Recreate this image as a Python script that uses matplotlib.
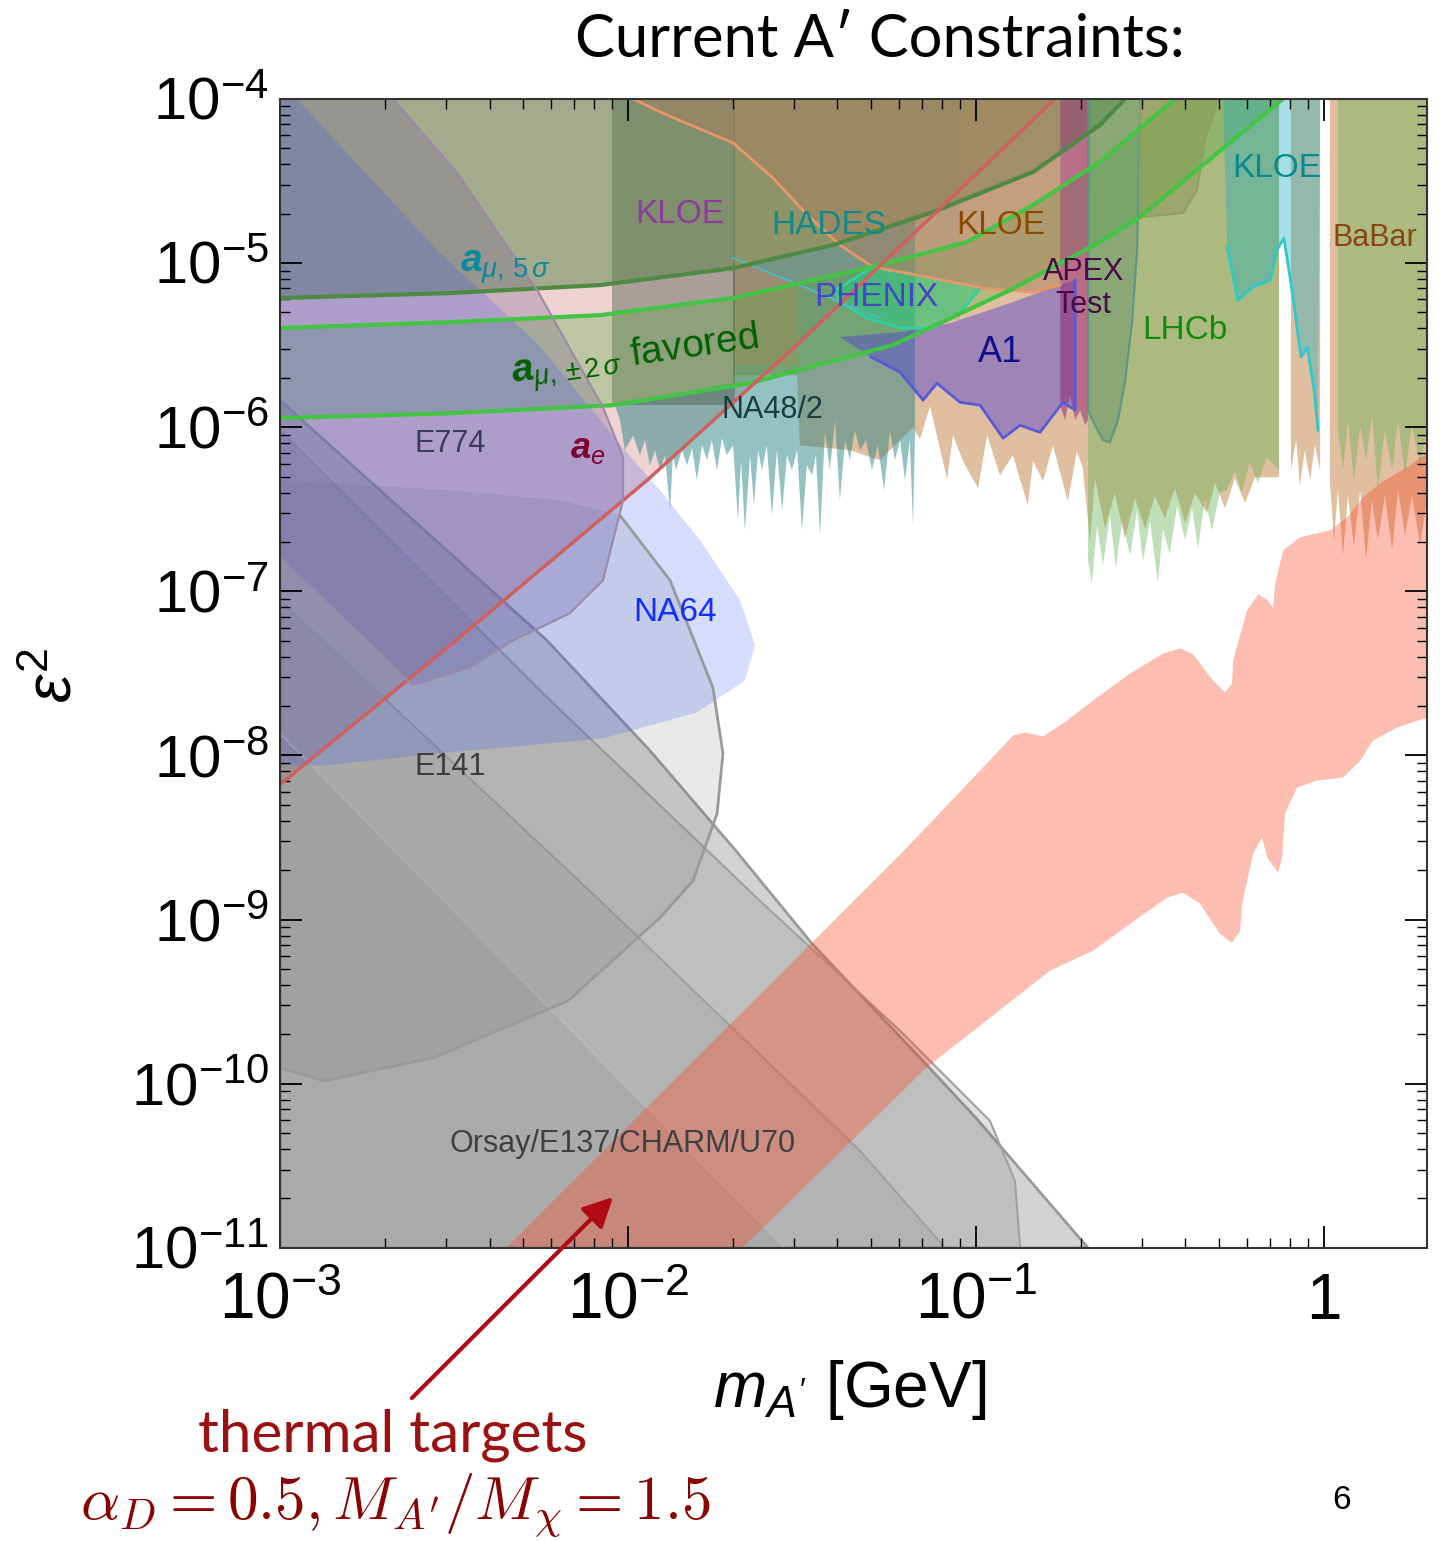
import numpy as np
import matplotlib.pyplot as plt

plt.rcParams['font.family'] = ['Liberation Sans', 'DejaVu Sans']
plt.rcParams['mathtext.fontset'] = 'custom'
plt.rcParams['mathtext.rm'] = 'Liberation Sans'
plt.rcParams['mathtext.it'] = 'Liberation Sans:italic'
plt.rcParams['mathtext.bf'] = 'Liberation Sans:bold'
plt.rcParams['mathtext.bfit'] = 'Liberation Sans:italic:bold'

# boundaries, as log10(m_A' / GeV) and log10(eps^2)
ae_lm = [-3.0, -3.0, -2.511, -1.945, -1.506, -0.773]
ae_le = [-4.0, -8.177, -7.329, -6.323, -5.482, -4.0]

amu5_lm = [-3.0, -2.511, -2.080, -1.698, -1.411, -1.123, -0.836, -0.644, -0.572]
amu5_le = [-5.213, -5.183, -5.134, -5.031, -4.890, -4.689, -4.445, -4.159, -4.0]

fav_hi_lm = [-3.0, -2.511, -2.080, -1.698, -1.313, -1.026, -0.836, -0.644, -0.500, -0.428]
fav_hi_le = [-5.396, -5.360, -5.317, -5.213, -5.031, -4.872, -4.646, -4.384, -4.128, -4.0]
fav_lo_lm = [-3.0, -2.511, -2.043, -1.649, -1.239, -0.902, -0.644, -0.529, -0.118]
fav_lo_le = [-5.945, -5.915, -5.866, -5.732, -5.500, -5.165, -4.872, -4.720, -4.0]

na48_lm = [-2.046, -2.037, -2.023, -2.009, -1.985, -1.966, -1.951, -1.937, -1.922,
           -1.908, -1.894, -1.879, -1.871, -1.862, -1.845, -1.830, -1.816, -1.802, -1.787,
           -1.773, -1.759, -1.744, -1.730, -1.716, -1.698, -1.684, -1.675, -1.664, -1.649,
           -1.638, -1.626, -1.615, -1.601, -1.586, -1.572, -1.557, -1.543, -1.529, -1.514,
           -1.500, -1.486, -1.471, -1.460, -1.448, -1.434, -1.420, -1.405, -1.391, -1.376,
           -1.362, -1.348, -1.333, -1.316, -1.299, -1.282, -1.264, -1.247, -1.233, -1.218,
           -1.204, -1.190, -1.181, -1.175]
na48_le = [-5.866, -5.866, -5.957, -6.140, -6.049, -6.171, -6.079, -6.232, -6.140,
           -6.262, -6.171, -6.506, -6.171, -6.262, -6.140, -6.232, -6.128, -6.323, -6.110,
           -6.201, -6.079, -6.262, -6.067, -6.171, -6.110, -6.567, -6.201, -6.628, -6.171,
           -6.476, -6.140, -6.262, -6.110, -6.537, -6.140, -6.506, -6.171, -6.262, -6.140,
           -6.628, -6.232, -6.293, -6.171, -6.659, -6.018, -6.262, -5.957, -6.445, -6.079,
           -6.201, -6.018, -6.140, -6.079, -6.262, -6.110, -6.384, -6.018, -6.201, -6.079,
           -6.323, -6.079, -6.598, -6.018]
na48_top_lm = [-1.175, -1.411, -1.698, -1.698, -2.046]
na48_top_le = [-4.729, -4.890, -5.031, -5.732, -5.870]

babar_lm = [-1.698, -1.698, -1.514, -1.506, -1.362, -1.276, -1.181, -1.161, -1.132, -1.083,
            -1.066, -1.037, -0.994, -0.968, -0.931, -0.894, -0.851, -0.836, -0.807, -0.779,
            -0.736, -0.710, -0.693, -0.672, -0.658, -0.629, -0.601, -0.572, -0.543, -0.514,
            -0.486, -0.457, -0.428, -0.399, -0.371, -0.336, -0.313, -0.284, -0.256, -0.227,
            -0.198, -0.129, -0.129]
babar_le = [-4.0, -5.683, -5.683, -6.110, -6.140, -6.201, -6.000, -6.074, -5.872, -6.317,
            -6.049, -6.208, -6.372, -6.049, -6.293, -6.171, -6.476, -6.207, -6.329, -6.110,
            -6.451, -6.146, -6.250, -6.695, -6.311, -6.616, -6.402, -6.677, -6.433, -6.616,
            -6.421, -6.555, -6.372, -6.585, -6.402, -6.524, -6.341, -6.494, -6.311, -6.463,
            -6.305, -6.305, -4.0]
babar2_lm = [-0.095, -0.095, -0.080, -0.069, -0.055, -0.040, -0.026, -0.011, -0.011]
babar2_le = [-4.0, -6.262, -6.079, -6.354, -6.140, -6.323, -6.110, -6.262, -4.0]
babar3_lm = [0.017, 0.017, 0.029, 0.040, 0.055, 0.069, 0.086, 0.104, 0.121, 0.138,
             0.155, 0.175, 0.196, 0.213, 0.233, 0.253, 0.276, 0.296, 0.296]
babar3_le = [-4.0, -6.323, -6.689, -6.384, -6.781, -6.415, -6.720, -6.384, -6.811, -6.445,
             -6.689, -6.415, -6.750, -6.384, -6.659, -6.415, -6.720, -6.445, -4.0]

wasa_lm = [-1.698, -1.514, -1.514, -1.698]
wasa_le = [-4.970, -5.128, -5.622, -5.622]

lhcb_lm = [-0.678, -0.678, -0.667, -0.652, -0.635, -0.615, -0.598, -0.580, -0.557, -0.537,
           -0.520, -0.500, -0.477, -0.463, -0.443, -0.422, -0.399, -0.379, -0.362, -0.342,
           -0.322, -0.299, -0.279, -0.256, -0.236, -0.213, -0.190, -0.164, -0.129, -0.129]
lhcb_le = [-4.0, -6.811, -6.951, -6.598, -6.841, -6.537, -6.860, -6.567, -6.780, -6.506,
           -6.817, -6.573, -6.951, -6.616, -6.774, -6.476, -6.689, -6.494, -6.738, -6.433,
           -6.628, -6.396, -6.384, -6.262, -6.396, -6.213, -6.341, -6.183, -6.262, -4.0]
lhcb2_lm = [0.040, 0.040, 0.055, 0.069, 0.086, 0.104, 0.121, 0.138, 0.155, 0.175,
            0.196, 0.213, 0.233, 0.253, 0.276, 0.296, 0.296]
lhcb2_le = [-4.0, -6.018, -6.262, -5.957, -6.323, -5.988, -6.201, -5.927, -6.384, -6.018,
            -6.262, -5.957, -6.293, -5.988, -6.232, -6.018, -4.0]

kloe_r_lm = [-0.290, -0.278, -0.247, -0.204, -0.155, -0.135, -0.115, -0.092, -0.066, -0.048, -0.028, -0.017, -0.011]
kloe_r_le = [-4.0, -4.903, -5.226, -5.146, -5.104, -4.921, -4.848, -5.165, -5.573, -5.512, -5.775, -6.018, -4.0]

mid_lm = [-0.678, -0.678, -0.658, -0.635, -0.615, -0.592, -0.571, -0.551, -0.537, -0.528]
mid_le = [-4.0, -5.896, -5.988, -6.079, -6.092, -5.957, -5.714, -5.348, -4.921, -4.0]

apex_lm = [-0.758, -0.758, -0.744, -0.730, -0.715, -0.701, -0.686, -0.678, -0.672]
apex_le = [-4.0, -5.866, -5.957, -5.805, -5.957, -5.896, -5.988, -5.957, -4.0]

a1_lm = [-1.391, -1.218, -1.074, -0.902, -0.778, -0.715, -0.715, -0.750, -0.816, -0.873,
         -0.922, -0.988, -1.046, -1.112, -1.152, -1.218, -1.301]
a1_le = [-5.451, -5.421, -5.366, -5.244, -5.146, -5.104, -5.896, -5.848, -6.031, -5.988,
         -6.067, -5.866, -5.848, -5.732, -5.835, -5.665, -5.573]

phenix_lm = [-1.405, -1.296, -1.169, -0.988, -1.003, -1.046, -1.123, -1.218, -1.313, -1.391]
phenix_le = [-5.165, -5.024, -5.073, -5.153, -5.195, -5.299, -5.396, -5.396, -5.335, -5.238]

kloe_b_lm = [-1.985, -1.888, -1.698, -1.583, -1.485, -1.391, -1.296, -1.169, -0.980, -0.836, -0.758, -0.758]
kloe_b_le = [-4.0, -4.098, -4.268, -4.482, -4.707, -4.890, -5.024, -5.073, -5.153, -5.177, -5.134, -4.0]

kloe_p_lm = [-2.046, -1.692, -1.692, -2.046]
kloe_p_le = [-4.0, -4.0, -5.866, -5.866]

hades_lm = [-1.698, -1.046, -1.046, -1.276, -1.391, -1.506, -1.698]
hades_le = [-4.0, -4.0, -5.348, -5.335, -5.238, -5.134, -4.970]

lhcb_d_lm = [-0.528, -0.528, -0.405, -0.365, -0.342, -0.304]
lhcb_d_le = [-4.0, -4.720, -4.695, -4.555, -4.250, -4.0]

e774_lm = [-2.675, -2.491, -2.261, -2.072, -2.014, -2.014, -2.072, -2.167, -2.330, -2.454, -2.618, -3.0, -3.0]
e774_le = [-4.0, -4.451, -5.165, -5.878, -6.183, -6.445, -6.933, -7.134, -7.299, -7.464, -7.573, -6.793, -4.0]

e141_lm = [-3.0, -2.511, -2.195, -2.023, -1.879, -1.756, -1.727, -1.744, -1.813, -1.908, -2.172, -2.560, -2.874, -3.0]
e141_le = [-6.323, -6.384, -6.445, -6.537, -6.933, -7.586, -7.988, -8.354, -8.763, -8.988, -9.494, -9.842, -9.982, -9.903]

na64_lm = [-2.951, -2.549, -2.261, -2.072, -2.009, -1.908, -1.793, -1.678, -1.635, -1.664,
           -1.802, -2.072, -2.549, -2.874, -3.0, -3.0]
na64_le = [-4.0, -4.921, -5.488, -5.976, -6.140, -6.384, -6.689, -7.055, -7.329, -7.543,
           -7.738, -7.896, -7.988, -8.061, -8.061, -4.0]

dump1_lm = [-3.0, -2.233, -1.937, -1.690, -1.471, -1.161, -1.0, -0.678, -3.0]
dump1_le = [-5.836, -7.299, -7.970, -8.580, -9.147, -9.842, -10.208, -11.0, -11.0]
dump2_lm = [-3.0, -2.253, -1.621, -1.218, -0.960, -0.888, -0.873, -3.0]
dump2_le = [-6.018, -7.604, -8.885, -9.677, -10.226, -10.592, -11.0, -11.0]
dump3_lm = [-3.0, -2.080, -1.333, -1.089, -3.0]
dump3_le = [-7.055, -8.885, -10.409, -11.0, -11.0]
dump4_lm = [-3.0, -2.670, -1.549, -3.0]
dump4_le = [-7.866, -8.580, -11.0, -11.0]

thermal_hi_lm = [-2.350, -1.207, -0.988, -0.893, -0.859, -0.807, -0.750, -0.652, -0.557, -0.462,
                 -0.413, -0.376, -0.319, -0.284, -0.264, -0.261, -0.221, -0.189, -0.161, -0.146,
                 -0.140, -0.117, -0.069, 0.018, 0.067, 0.113, 0.161, 0.239, 0.296]
thermal_hi_le = [-11.0, -8.580, -8.092, -7.878, -7.860, -7.884, -7.805, -7.647, -7.500, -7.378,
                 -7.348, -7.384, -7.543, -7.616, -7.561, -7.421, -7.116, -7.018, -7.055, -7.104,
                 -6.951, -6.750, -6.671, -6.628, -6.549, -6.427, -6.342, -6.244, -6.159]
thermal_lo_lm = [-1.672, -1.143, -0.787, -0.663, -0.557, -0.451, -0.405, -0.356, -0.299, -0.264,
                 -0.241, -0.235, -0.204, -0.178, -0.163, -0.132, -0.120, -0.112, -0.077, -0.020,
                 0.055, 0.104, 0.141, 0.210, 0.296]
thermal_lo_le = [-11.0, -9.903, -9.311, -9.189, -9.025, -8.866, -8.836, -8.903, -9.086, -9.141,
                 -9.067, -8.903, -8.598, -8.500, -8.622, -8.714, -8.622, -8.354, -8.195, -8.153,
                 -8.134, -8.031, -7.909, -7.830, -7.769]

y_ticks = [-11, -10, -9, -8, -7, -6, -5, -4]
x_ticks = [-3, -2, -1, 0]
x_tick_labels = [r'$10^{-3}$', r'$10^{-2}$', r'$10^{-1}$', '1']


def P(a):
    return 10 ** np.asarray(a, dtype=float)


fig = plt.figure(figsize=(14.44, 15.41), dpi=100)
ax = fig.add_axes([0.1939, 0.1902, 0.7943, 0.7456])
ax.set_xscale('log')
ax.set_yscale('log')


def region(lm, le, color, alpha, ec='none', lw=0.0):
    ax.fill(P(lm), P(le), facecolor=color, alpha=alpha, edgecolor='none')
    if ec != 'none':
        ax.fill(P(lm), P(le), facecolor='none', edgecolor=ec, lw=lw)


# upper exclusions
region(ae_lm, ae_le, '#b83838', 0.22)
region(babar_lm, babar_le, '#c08040', 0.5)
region(babar2_lm, babar2_le, '#c08040', 0.5)
region(babar3_lm, babar3_le, '#c08040', 0.5)
region(na48_lm + na48_top_lm, na48_le + na48_top_le, '#2a8585', 0.5)
region(wasa_lm, wasa_le, '#e07848', 0.3)
region(hades_lm, hades_le, '#309090', 0.1)
region(kloe_p_lm, kloe_p_le, '#405040', 0.4)
region(amu5_lm + [-3.0], amu5_le + [-4.0], '#598446', 0.5)
ax.fill(P(fav_hi_lm + fav_lo_lm[::-1]), P(fav_hi_le + fav_lo_le[::-1]),
        facecolor='#50a838', alpha=0.3, edgecolor='none')
ax.plot(P(hades_lm[3:]), P(hades_le[3:]), color='#50b8c0', lw=1.5)
region(kloe_b_lm, kloe_b_le, '#a8805e', 0.5)
ax.plot(P(kloe_b_lm[:-1]), P(kloe_b_le[:-1]), color='#e8966a', lw=2)
region(a1_lm, a1_le, '#5040d0', 0.45)
ax.plot(P(a1_lm[5:]), P(a1_le[5:]), color='#5a5ad8', lw=2)
region(phenix_lm, phenix_le, '#20d080', 0.45, '#30d0a0', 2)
region(apex_lm, apex_le, '#902070', 0.5)
region(mid_lm, mid_le, '#407070', 0.35, '#5a86a8', 1.5)
region(lhcb_lm, lhcb_le, '#60b050', 0.4)
region(lhcb2_lm, lhcb2_le, '#60b050', 0.4)
region(lhcb_d_lm, lhcb_d_le, '#808040', 0.3, '#90a060', 1.5)
region(kloe_r_lm, kloe_r_le, '#20b0c0', 0.4)
ax.plot(P(kloe_r_lm[1:-1]), P(kloe_r_le[1:-1]), color='#30c8c8', lw=2)

# g-2 curves
ax.plot(P(amu5_lm), P(amu5_le), color='#4f8a45', lw=3)
ax.plot(P(fav_hi_lm), P(fav_hi_le), color='#44c444', lw=3)
ax.plot(P(fav_lo_lm), P(fav_lo_le), color='#44c444', lw=3)
ax.plot(P(ae_lm[1:]), P(ae_le[1:]), color='#d06060', lw=2.5)

# beam dumps and low mass
region(dump1_lm, dump1_le, '#707070', 0.30, '#9a9a9a', 2)
region(dump2_lm, dump2_le, '#707070', 0.20, '#a0a0a0', 1.5)
region(dump3_lm, dump3_le, '#707070', 0.15, '#a0a0a0', 1.5)
region(dump4_lm, dump4_le, '#707070', 0.12, '#b8b8b8', 1.5)
region(e141_lm, e141_le, '#707070', 0.15)
ax.plot(P(e141_lm[3:]), P(e141_le[3:]), color='#9a9a9a', lw=2)
region(e774_lm, e774_le, '#786496', 0.3)
ax.plot(P(e774_lm[:-1]), P(e774_le[:-1]), color='#9a8aa8', lw=1.5)
region(na64_lm, na64_le, '#3050f0', 0.2)

# thermal target band
ax.fill(P(thermal_hi_lm + thermal_lo_lm[::-1]), P(thermal_hi_le + thermal_lo_le[::-1]),
        facecolor='#fa4c29', alpha=0.37, edgecolor='none')

ax.set_xlim(1e-3, P(0.296))
ax.set_ylim(1e-11, 1e-4)
ax.set_xticks(P(x_ticks))
ax.set_xticklabels(x_tick_labels)
ax.set_yticks(P(y_ticks))
ax.set_yticklabels([r'$10^{%d}$' % t for t in y_ticks])
ax.tick_params(which='both', direction='in', top=True, right=True)
ax.tick_params(which='major', length=16, width=1.3)
ax.tick_params(which='minor', length=7, width=1)
ax.tick_params(axis='x', labelsize=46, pad=17)
ax.tick_params(axis='y', labelsize=43, pad=8)
for s in ax.spines.values():
    s.set_linewidth(1.5)
    s.set_color('#333333')

labels = [
    ('KLOE', -1.850, -4.707, '#8e3a9e', 24),
    ('HADES', -1.422, -4.774, '#108a8a', 24),
    ('KLOE', -0.928, -4.774, '#8b4a00', 24),
    ('KLOE', -0.135, -4.421, '#0a8a8a', 24),
    ('BaBar', 0.147, -4.848, '#8b4513', 22),
    ('APEX', -0.692, -5.055, '#4a0a4a', 22),
    ('Test', -0.692, -5.256, '#4a0a4a', 22),
    ('PHENIX', -1.287, -5.207, '#4545c8', 24),
    ('A1', -0.931, -5.543, '#10108a', 26),
    ('LHCb', -0.399, -5.409, '#108a10', 24),
    ('NA48/2', -1.586, -5.896, '#1a3d3d', 22),
    ('E774', -2.511, -6.104, '#3a3d5a', 22),
    (r'$\mathbfit{a}_e$', -2.115, -6.128, '#800030', 26),
    ('NA64', -1.865, -7.128, '#1030ff', 24),
    ('E141', -2.511, -8.073, '#3d3d3d', 22),
    ('Orsay/E137/CHARM/U70', -2.017, -10.366, '#404040', 22),
    (r'$\mathbfit{a}_{\mu,\,5\,\sigma}$', -2.353, -5.031, '#0a8a9a', 28),
]
for txt, lx, ly, c, fs in labels:
    ax.text(P(lx), P(ly), txt, color=c, fontsize=fs, ha='center', va='center')
ax.text(P(-1.980), P(-5.579), r'$\mathbfit{a}_{\mu,\pm 2\,\sigma}$ favored', color='#006000',
        fontsize=28, ha='center', va='center', rotation=8)

fig.text(0.6094, 0.974, 'Current A\u2032 Constraints:', fontsize=43, ha='center', va='center',
         family=['Lato', 'DejaVu Sans'])
fig.text(0.5886, 0.098, r"$m_{A'}$ [GeV]", fontsize=46, ha='center', va='center')
fig.text(0.038, 0.562, r'$\varepsilon^2$', fontsize=46, ha='center', va='center', rotation=90)
fig.text(0.272, 0.0688, 'thermal targets', fontsize=42, ha='center', va='center',
         color='#9b1010', family=['Lato', 'DejaVu Sans'])
fig.text(0.2735, 0.0234, r'$\alpha_D = 0.5, M_{A^\prime}/M_\chi = 1.5$', fontsize=44,
         ha='center', va='center', color='#8b0000', math_fontfamily='cm')
fig.text(0.929, 0.0266, '6', fontsize=24, ha='center', va='center')
ax.annotate('', xy=(0.4259, 0.2245), xycoords='figure fraction',
            xytext=(0.2839, 0.0915), textcoords='figure fraction',
            arrowprops=dict(arrowstyle='-|>', color='#b00a14', lw=3, mutation_scale=45))

fig.savefig('out.png', dpi=100)
